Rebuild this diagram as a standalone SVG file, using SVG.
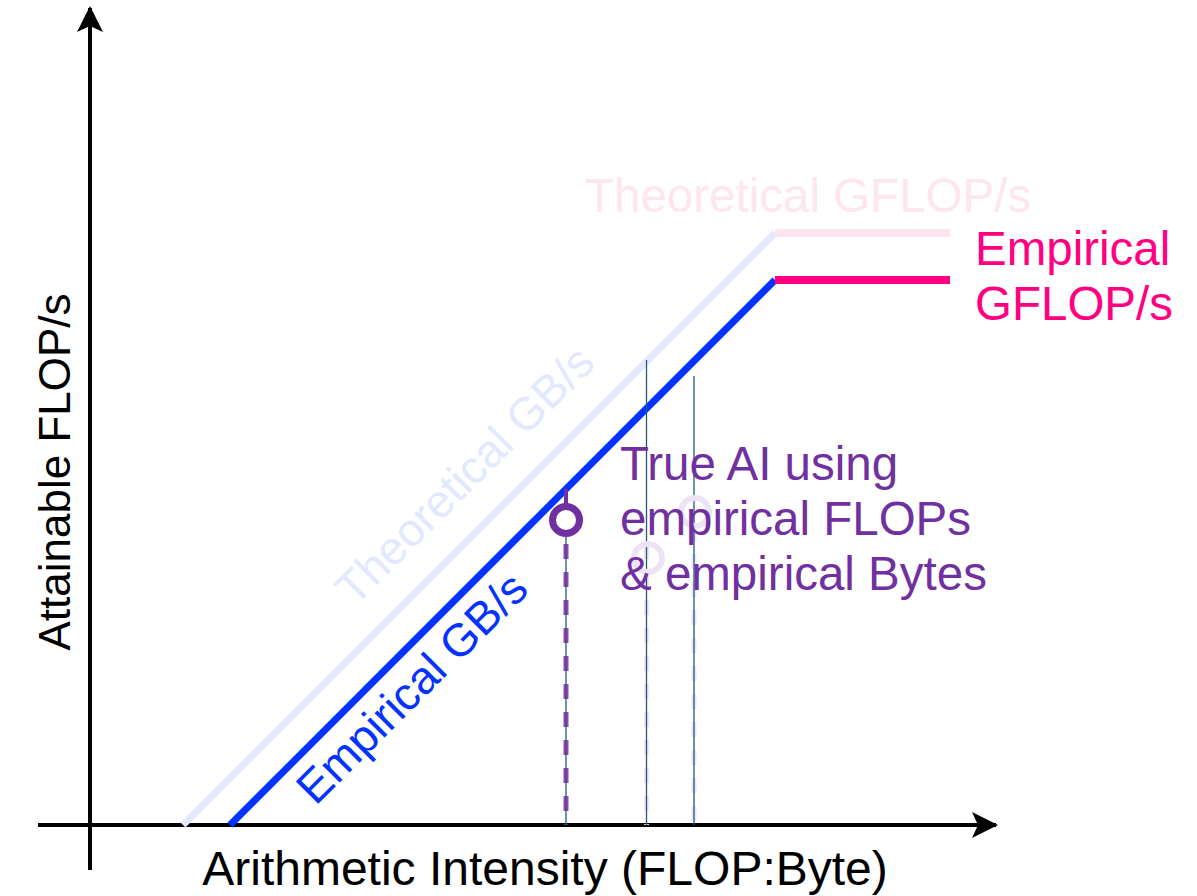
<svg xmlns="http://www.w3.org/2000/svg" width="1197" height="896" viewBox="0 0 1197 896">
<style>
text{font-family:"Liberation Sans",Arial,sans-serif;}
.big{font-size:47.5px;}
.axis{stroke:#000;stroke-width:4;fill:none;}
.thin{stroke:#1f5a7a;stroke-width:1.3;fill:none;}
.purple{fill:#7030a0;}
</style>
<defs>
<marker id="ah" viewBox="0 0 26 26" refX="24" refY="13" markerWidth="26" markerHeight="26" markerUnits="userSpaceOnUse" orient="auto">
<path d="M0,0 L26,13 L0,26 L6,13 Z" fill="#000"/>
</marker>
</defs>
<rect width="1197" height="896" fill="#fff"/>
<g id="connectors">
<line class="axis" x1="38" y1="825" x2="996" y2="825" marker-end="url(#ah)"/>
<line class="axis" x1="90" y1="870" x2="90" y2="8" marker-end="url(#ah)"/>
<line x1="183" y1="825" x2="775" y2="233" stroke="#e3e8ff" stroke-width="7"/>
<line x1="775" y1="233" x2="950" y2="233" stroke="#fde3ef" stroke-width="8"/>
<line x1="230" y1="825" x2="775" y2="280" stroke="#0433ff" stroke-width="7"/>
<line x1="775" y1="280" x2="950" y2="280" stroke="#ff0080" stroke-width="8"/>
<line x1="646.5" y1="544" x2="646.5" y2="825" stroke="#ece6f6" stroke-width="5" stroke-dasharray="15,13"/>
<line x1="694" y1="526" x2="694" y2="825" stroke="#ece6f6" stroke-width="5" stroke-dasharray="15,13"/>
<line class="thin" x1="646.5" y1="360" x2="646.5" y2="825"/>
<line class="thin" x1="694" y1="376" x2="694" y2="825"/>
<line class="thin" x1="566" y1="537" x2="566" y2="825"/>
<line x1="566" y1="544" x2="566" y2="825" stroke="#7030a0" stroke-width="5" stroke-dasharray="15,13" stroke-opacity="0.85"/>
<line x1="566" y1="489" x2="566" y2="504" stroke="#7030a0" stroke-width="4"/>
</g>
<g id="faint-points">
<circle cx="648" cy="558" r="14" fill="none" stroke="#ece4f4" stroke-width="6"/>
<circle cx="695" cy="512" r="14" fill="none" stroke="#ece4f4" stroke-width="6"/>
</g>
<g id="point">
<circle cx="566" cy="520" r="13.5" fill="none" stroke="#7030a0" stroke-width="7"/>
</g>
<g id="label-theoretical-gflops"><text class="big" x="585" y="212" fill="#fde6f0">Theoretical GFLOP/s</text></g>
<g id="label-empirical-gflops"><text class="big" x="975" y="265" fill="#ff0080">Empirical</text><text class="big" x="975" y="320" fill="#ff0080">GFLOP/s</text></g>
<g id="label-true-ai"><text class="big purple" x="620" y="480">True AI using</text><text class="big purple" x="620" y="535">empirical FLOPs</text><text class="big purple" x="620" y="590">&amp; empirical Bytes</text></g>
<g id="label-theoretical-gbs"><text x="476" y="486" font-size="46" fill="#e3e8ff" text-anchor="middle" transform="rotate(-45 476 486)">Theoretical GB/s</text></g>
<g id="label-empirical-gbs"><text x="423" y="699" font-size="46" fill="#0433ff" text-anchor="middle" transform="rotate(-45 423 699)">Empirical GB/s</text></g>
<g id="label-y"><text x="58" y="472" font-size="44" fill="#000" text-anchor="middle" dominant-baseline="middle" transform="rotate(-90 58 472)">Attainable FLOP/s</text></g>
<g id="label-x"><text x="545" y="885" font-size="48" fill="#000" text-anchor="middle">Arithmetic Intensity (FLOP:Byte)</text></g>
</svg>
